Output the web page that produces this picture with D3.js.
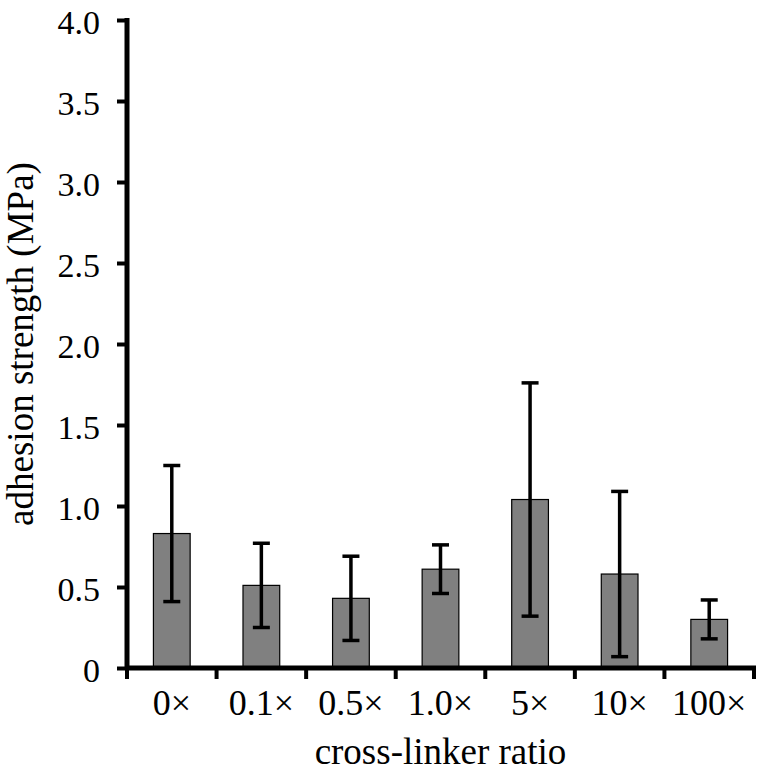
<!DOCTYPE html>
<html>
<head>
<meta charset="utf-8">
<script src="https://cdn.jsdelivr.net/npm/d3@7"></script>
<style>
  body { margin: 0; background: #fff; }
  text { font-family: "Liberation Serif", "Times New Roman", serif; fill: #000; }
</style>
</head>
<body>
<script>
// Data
let categories = ["0×", "0.1×", "0.5×", "1.0×", "5×", "10×", "100×"];
let strength = [0.83, 0.51, 0.43, 0.61, 1.04, 0.58, 0.30];
let errLow = [0.42, 0.26, 0.26, 0.15, 0.72, 0.51, 0.12];
let errHigh = [0.42, 0.26, 0.26, 0.15, 0.72, 0.51, 0.12];
let yTicks = [0, 0.5, 1.0, 1.5, 2.0, 2.5, 3.0, 3.5, 4.0];

let margin = {top: 20, right: 6, bottom: 104, left: 127};
let width = 760 - margin.left - margin.right;
let height = 772 - margin.top - margin.bottom;

let x = d3.scaleBand().domain(categories).range([0, width]).paddingInner(0.59).paddingOuter(0.295);
let y = d3.scaleLinear().domain([0, 4]).range([height, 0]);

let svg = d3.select("body")
    .append("svg")
        .attr("width", 760)
        .attr("height", 772)
    .append("g")
        .attr("transform", "translate(" + margin.left + "," + margin.top + ")");

// bars
svg.selectAll(".bar")
    .data(strength)
  .enter().append("rect")
    .attr("class", "bar")
    .attr("x", function(d, i) { return x(categories[i]); })
    .attr("y", function(d) { return y(d); })
    .attr("width", x.bandwidth())
    .attr("height", function(d) { return height - y(d); })
    .attr("fill", "#808080")
    .attr("stroke", "#000")
    .attr("stroke-width", 1.2);

// error bars
let cap = 8.5;
let eb = svg.selectAll(".err")
    .data(strength)
  .enter().append("g")
    .attr("class", "err")
    .attr("stroke", "#000")
    .attr("stroke-width", 3.5);

eb.append("line")
    .attr("x1", function(d, i) { return x(categories[i]) + x.bandwidth() / 2; })
    .attr("x2", function(d, i) { return x(categories[i]) + x.bandwidth() / 2; })
    .attr("y1", function(d, i) { return y(d + errHigh[i]); })
    .attr("y2", function(d, i) { return y(d - errLow[i]); });

eb.append("line")
    .attr("x1", function(d, i) { return x(categories[i]) + x.bandwidth() / 2 - cap; })
    .attr("x2", function(d, i) { return x(categories[i]) + x.bandwidth() / 2 + cap; })
    .attr("y1", function(d, i) { return y(d + errHigh[i]); })
    .attr("y2", function(d, i) { return y(d + errHigh[i]); });

eb.append("line")
    .attr("x1", function(d, i) { return x(categories[i]) + x.bandwidth() / 2 - cap; })
    .attr("x2", function(d, i) { return x(categories[i]) + x.bandwidth() / 2 + cap; })
    .attr("y1", function(d, i) { return y(d - errLow[i]); })
    .attr("y2", function(d, i) { return y(d - errLow[i]); });

// y axis
let yAxis = d3.axisLeft(y).tickValues(yTicks)
    .tickFormat(function(d) { return d === 0 ? "0" : d3.format(".1f")(d); })
    .tickSize(10).tickPadding(17);

let yg = svg.append("g").attr("class", "yaxis").call(yAxis);
yg.select(".domain").remove();
yg.selectAll(".tick line").attr("stroke", "#000").attr("stroke-width", 4);
yg.selectAll(".tick text")
    .attr("dy", "0.4em")
    .style("font-size", "34px")
    .style("font-family", "'Liberation Serif', serif");

svg.append("line")
    .attr("x1", 0).attr("x2", 0)
    .attr("y1", y(4) - 2).attr("y2", height + 2)
    .attr("stroke", "#000").attr("stroke-width", 5);

// x axis: ticks sit between categories
let xEdges = categories.map(function(c) { return x(c) - x.step() * x.paddingInner() / 2; }).concat([width]);

let xg = svg.append("g")
    .attr("class", "xaxis")
    .attr("transform", "translate(0," + height + ")");

xg.append("line")
    .attr("x1", -2).attr("x2", width + 2)
    .attr("y1", 0).attr("y2", 0)
    .attr("stroke", "#000").attr("stroke-width", 5);

xg.selectAll(".xtick")
    .data(xEdges)
  .enter().append("line")
    .attr("class", "xtick")
    .attr("x1", function(d) { return d; })
    .attr("x2", function(d) { return d; })
    .attr("y1", 0).attr("y2", 11)
    .attr("stroke", "#000").attr("stroke-width", 4);

xg.selectAll(".xlabel")
    .data(categories)
  .enter().append("text")
    .attr("class", "xlabel")
    .attr("x", function(d) { return x(d) + x.bandwidth() / 2; })
    .attr("y", 47)
    .style("text-anchor", "middle")
    .style("font-size", "36px")
    .text(function(d) { return d; });

svg.append("text")      // text label for the x-axis
    .attr("x", (xEdges[0] + width) / 2)
    .attr("y", height + 96)
    .style("text-anchor", "middle")
    .style("font-size", "37px")
    .text("cross-linker ratio");

svg.append("text")      // text label for the y-axis
    .attr("transform", "rotate(-90)")
    .attr("x", -y(2))
    .attr("y", 33 - margin.left)
    .style("text-anchor", "middle")
    .style("font-size", "37px")
    .text("adhesion strength (MPa)");
</script>
</body>
</html>
